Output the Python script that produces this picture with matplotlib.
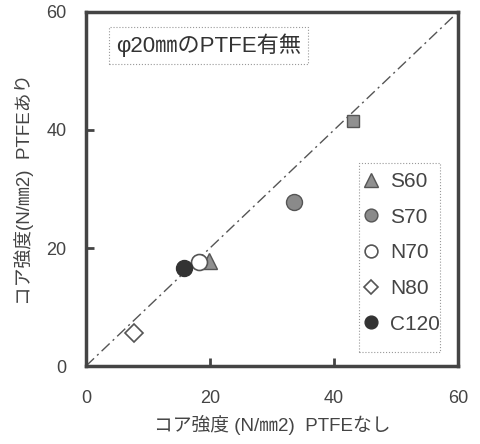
import matplotlib
matplotlib.use("Agg")
import matplotlib.pyplot as plt
from matplotlib.patches import Rectangle

plt.rcParams['font.family'] = ['Liberation Sans', 'Noto Sans CJK JP', 'DejaVu Sans']

# Data (x: PTFE none, y: PTFE present)
s60_x = [19.8]
s60_y = [17.8]
s70_x = [33.5]
s70_y = [27.8]
n70_x = [18.3]
n70_y = [17.6]
n80_x = [7.7]
n80_y = [5.6]
c120_x = [15.8]
c120_y = [16.6]
sq_x = [43.1]
sq_y = [41.6]

ticks = [0, 20, 40, 60]
title_text = "φ20㎜のPTFE有無"
xlabel = "コア強度 (N/㎜2)  PTFEなし"
ylabel = "コア強度(N/㎜2)  PTFEあり"

fig = plt.figure(figsize=(4.81, 4.44), dpi=100)
ax = fig.add_axes([86/481, 1-366/444, 372/481, 354/444])

ax.plot([0, 60], [0, 60], color='#555555', lw=1.0, ls=(0, (8, 3, 1.5, 3)), zorder=1)

ax.plot(sq_x, sq_y, ls='none', marker='s', ms=9, mfc='#909090', mec='#555555', mew=1.0, zorder=3)
ax.plot(s60_x, s60_y, ls='none', marker='^', ms=12, mfc='#909090', mec='#555555', mew=1.0, label='S60', zorder=3)
ax.plot(s70_x, s70_y, ls='none', marker='o', ms=11.5, mfc='#8a8a8a', mec='#555555', mew=1.0, label='S70', zorder=3)
ax.plot(n70_x, n70_y, ls='none', marker='o', ms=11.5, mfc='white', mec='#555555', mew=1.2, label='N70', zorder=3)
ax.plot(n80_x, n80_y, ls='none', marker='D', ms=9, mfc='white', mec='#555555', mew=1.2, label='N80', zorder=3)
ax.plot(c120_x, c120_y, ls='none', marker='o', ms=11.5, mfc='#333333', mec='#333333', mew=1.0, label='C120', zorder=4)

ax.set_xlim(0, 60)
ax.set_ylim(0, 60)
ax.set_xticks(ticks)
ax.set_yticks(ticks)
ax.tick_params(direction='in', length=6, width=2, colors='#444444', labelsize=13,
               labelcolor='#444444', top=False, right=False)
ax.tick_params(axis='x', pad=17)
ax.tick_params(axis='y', pad=14)
for s in ax.spines.values():
    s.set_linewidth(2.5)
    s.set_color('#444444')

ax.set_xlabel(xlabel, fontsize=13.5, color='#444444', labelpad=6)
ax.set_ylabel(ylabel, fontsize=13.5, color='#444444', labelpad=9)

ax.text(0.08, 0.905, title_text, transform=ax.transAxes, fontsize=16, color='#333333',
        va='center', ha='left',
        bbox=dict(boxstyle='square,pad=0.3', fc='white', ec='#999999', lw=0.8, ls=':'))

# legend frame drawn separately (dotted)
ax.add_patch(Rectangle((0.734, 0.04), 0.218, 0.533, transform=ax.transAxes,
                       fc='white', ec='#999999', lw=0.8, ls=':', zorder=5))

leg = ax.legend(loc='upper left', bbox_to_anchor=(0.745, 0.548), fontsize=15,
                frameon=False, labelspacing=0.8,
                handlelength=0.8, handletextpad=0.5, borderpad=0, borderaxespad=0,
                markerscale=0.8)
leg.set_zorder(6)
for t in leg.get_texts():
    t.set_color('#444444')

fig.savefig('out.png', dpi=100)
